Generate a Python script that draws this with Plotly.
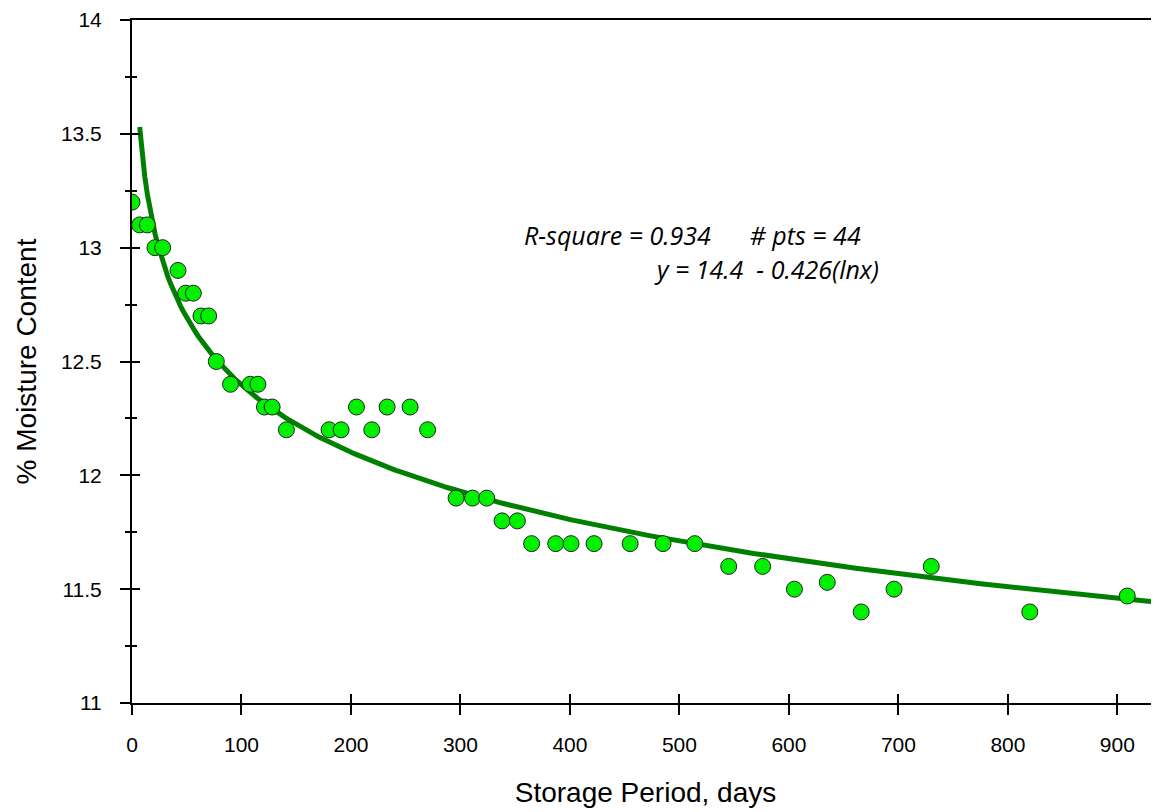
import numpy as np
import plotly.graph_objects as go

# storage period (days) and measured moisture content (%)
days = [0, 7, 14, 21, 28, 42, 49, 56, 63, 70, 77, 90, 108, 115, 121, 128, 141,
        180, 191, 205, 219, 233, 254, 270, 296, 311, 324, 338, 352, 365, 387,
        401, 422, 455, 485, 514, 545, 576, 605, 635, 666, 696, 730, 820, 909]
moisture = [13.2, 13.1, 13.1, 13.0, 13.0, 12.9, 12.8, 12.8, 12.7, 12.7, 12.5,
            12.4, 12.4, 12.4, 12.3, 12.3, 12.2, 12.2, 12.2, 12.3, 12.2, 12.3,
            12.3, 12.2, 11.9, 11.9, 11.9, 11.8, 11.8, 11.7, 11.7, 11.7, 11.7,
            11.7, 11.7, 11.7, 11.6, 11.6, 11.5, 11.53, 11.4, 11.5, 11.6, 11.4,
            11.47]

x_ticks = [0, 100, 200, 300, 400, 500, 600, 700, 800, 900]
y_ticks = [11, 11.5, 12, 12.5, 13, 13.5, 14]
y_labels = ["11", "11.5", "12", "12.5", "13", "13.5", "14"]
y_minor = [11.25, 11.75, 12.25, 12.75, 13.25, 13.75]

X_MAX = 938

# log fit y = a + b*ln(x), points with x > 0
d = np.array(days, dtype=float)
m = np.array(moisture, dtype=float)
pos = d > 0
b, a = np.polyfit(np.log(d[pos]), m[pos], 1)
xf = np.linspace(d[pos].min(), X_MAX, 400)
yf = a + b * np.log(xf)

fig = go.Figure()

fig.add_trace(go.Scatter(
    x=xf, y=yf, mode="lines",
    line=dict(color="#008000", width=5),
    hoverinfo="skip", showlegend=False))

fig.add_trace(go.Scatter(
    x=days, y=moisture, mode="markers",
    marker=dict(size=16, color="#00F000", line=dict(color="#222222", width=1)),
    showlegend=False))

# empty trace so the overlay axes (inner half of the crossing ticks) exist
fig.add_trace(go.Scatter(x=[], y=[], xaxis="x2", yaxis="y2", showlegend=False))

# page body has an 8px margin, so the figure is a little smaller than the window
fig.update_layout(
    width=1151, height=804,
    margin=dict(l=124, r=0, t=12, b=109),
    paper_bgcolor="white", plot_bgcolor="white",
    font=dict(family="Liberation Sans, Arial, sans-serif", color="black"),
    xaxis=dict(
        range=[0, X_MAX], tickvals=x_ticks, ticks="outside", ticklen=10,
        tickwidth=2, tickcolor="black", showline=True, linewidth=2,
        linecolor="black", mirror=True, showgrid=False, zeroline=False,
        tickfont=dict(size=21), ticklabelstandoff=12, automargin=False,
        ticklabeloverflow="allow",
        title=dict(text="Storage Period, days", font=dict(size=28), standoff=27),
    ),
    yaxis=dict(
        range=[11, 14], tickvals=y_ticks, ticktext=y_labels,
        ticks="outside", ticklen=10, tickwidth=2, tickcolor="black",
        showline=True, linewidth=2, linecolor="black", showgrid=False,
        zeroline=False, tickfont=dict(size=21), ticklabelstandoff=14,
        automargin=False, ticklabeloverflow="allow",
        minor=dict(tickvals=y_minor, ticks="outside", ticklen=5, tickwidth=2,
                   tickcolor="black"),
        title=dict(text="% Moisture Content", font=dict(size=28), standoff=16),
    ),
    xaxis2=dict(
        overlaying="x", anchor="y2", range=[0, X_MAX], tickvals=x_ticks,
        ticks="inside", ticklen=9, tickwidth=2, tickcolor="black",
        showticklabels=False, showgrid=False, zeroline=False, showline=False,
        automargin=False,
    ),
    yaxis2=dict(
        overlaying="y", anchor="x2", range=[11, 14], tickvals=y_ticks,
        ticks="inside", ticklen=8, tickwidth=2, tickcolor="black",
        showticklabels=False, showgrid=False, zeroline=False, showline=False,
        automargin=False,
        minor=dict(tickvals=y_minor, ticks="inside", ticklen=5, tickwidth=2,
                   tickcolor="black"),
    ),
)

ann_font = dict(family="Open Sans, Lato, sans-serif", size=25, color="black")
fig.add_annotation(
    x=356, y=13.055, xref="x", yref="y", xanchor="left", yanchor="middle",
    text="<i>R-square = 0.934      # pts = 44</i>", showarrow=False, font=ann_font)
fig.add_annotation(
    x=475, y=12.905, xref="x", yref="y", xanchor="left", yanchor="middle",
    text="<i>y = 14.4  - 0.426(lnx)</i>", showarrow=False, font=ann_font)

fig.write_html("out.html")
